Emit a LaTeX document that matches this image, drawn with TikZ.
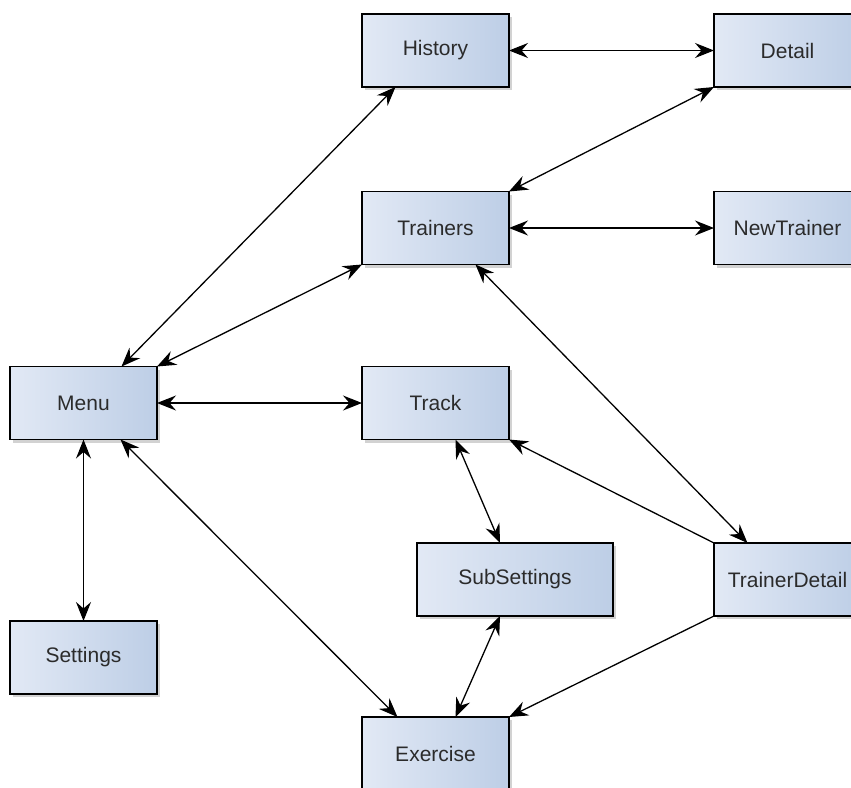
\documentclass[tikz,border=0pt]{standalone}
\usepackage{fontspec}
\setmainfont{Liberation Sans}
\usetikzlibrary{arrows.meta,shadows}
\definecolor{boxl}{HTML}{E2E9F5}
\definecolor{boxr}{HTML}{BDCEE6}
\definecolor{txt}{HTML}{2B2B2B}
\tikzset{
  box/.style={draw=black, line width=1.3pt, left color=boxl, right color=boxr,
    minimum width=147pt, minimum height=73pt, inner sep=0pt, outer sep=0pt,
    text=txt, font=\fontsize{21}{25}\selectfont,
    drop shadow={shadow xshift=3pt, shadow yshift=-3pt, opacity=0.25, fill=black!70}},
  tip/.tip={Stealth[length=19pt,width=15pt,inset=6.5pt]},
  link/.style={line width=1.3pt, tip-tip},
  onelink/.style={line width=1.3pt, -tip}
}
\begin{document}
\begin{tikzpicture}[x=1pt,y=-1pt]
\fill[white] (0,0) rectangle (851,787);
\useasboundingbox (0,0) rectangle (851,787);
\begin{scope}
\clip (0,0) rectangle (851,787);
\node[box] (History) at (435.5,50.5) {History};
\node[box] (Detail) at (787.5,50.5) {Detail};
\node[box] (Trainers) at (435.5,228) {Trainers};
\node[box] (NewTrainer) at (787.5,228) {NewTrainer};
\node[box] (Menu) at (83.5,403) {Menu};
\node[box] (Track) at (435.5,403) {Track};
\node[box, minimum width=196pt] (SubSettings) at (515,579.5) {SubSettings};
\node[box] (TrainerDetail) at (787.5,579.5) {TrainerDetail};
\node[box] (Settings) at (83.5,657.5) {Settings};
\node[box] (Exercise) at (435.5,753.5) {Exercise};

\draw[link] ([xshift=38pt]Menu.north) -- ([xshift=-40pt]History.south);
\draw[link] (History.east) -- (Detail.west);
\draw[link] (Detail.south west) -- (Trainers.north east);
\draw[link] (Trainers.east) -- (NewTrainer.west);
\draw[link] (Menu.north east) -- (Trainers.south west);
\draw[link] ([xshift=40pt]Trainers.south) -- ([xshift=-40pt]TrainerDetail.north);
\draw[link] (Menu.east) -- (Track.west);
\draw[link] (Menu.south) -- (Settings.north);
\draw[link] ([xshift=37pt]Menu.south) -- ([xshift=-38pt]Exercise.north);
\draw[link] ([xshift=20pt]Track.south) -- ([xshift=-15pt]SubSettings.north);
\draw[onelink] (TrainerDetail.north west) -- (Track.south east);
\draw[onelink] (TrainerDetail.south west) -- (Exercise.north east);
\draw[link] ([xshift=-15pt]SubSettings.south) -- ([xshift=20pt]Exercise.north);
\end{scope}
\end{tikzpicture}
\end{document}
